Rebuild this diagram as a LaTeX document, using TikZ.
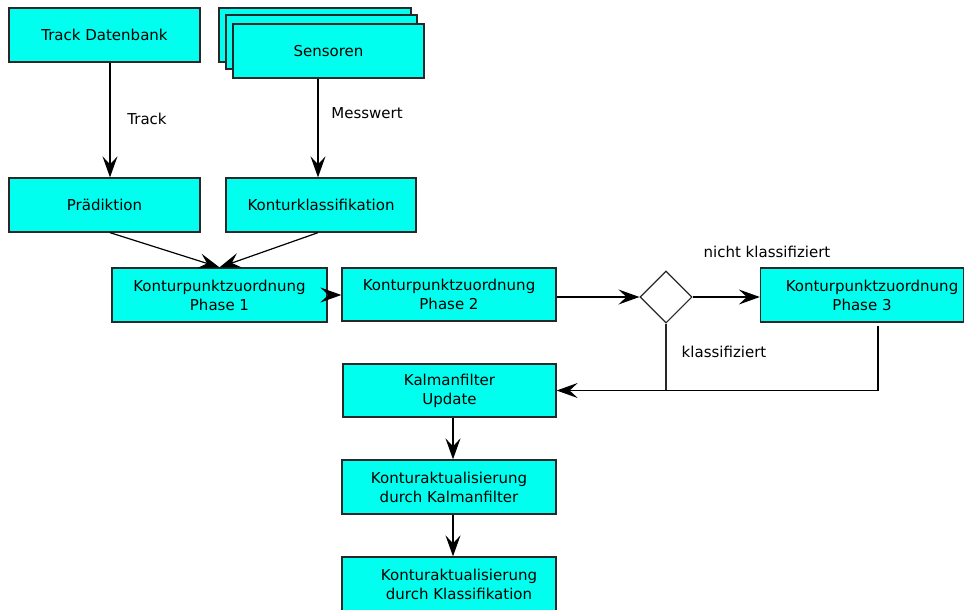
\documentclass[tikz,border=0pt]{standalone}
\usepackage{fontspec}
\setmainfont{DejaVu Sans}
\usetikzlibrary{arrows.meta,shapes.geometric}
\definecolor{boxcyan}{RGB}{0,255,238}
\definecolor{boxline}{RGB}{40,40,40}
\tikzset{
  box/.style={draw=boxline, fill=boxcyan, line width=1.3pt, rectangle, inner sep=0pt,
    align=center, font=\fontsize{15}{19}\selectfont},
  lbl/.style={font=\fontsize{15}{19}\selectfont, inner sep=0pt},
  conn/.style={draw=black, line width=1.2pt, -{Stealth[length=21pt,width=15pt,inset=8pt]}},
  plain/.style={draw=boxline, line width=1.2pt}
}
\begin{document}
\begin{tikzpicture}[x=1pt,y=-1pt]
\useasboundingbox (0,0) rectangle (964,610);
% nodes
\node[box, minimum width=191, minimum height=54] (td) at (104.5,35) {Track Datenbank};
\node[box, minimum width=192, minimum height=54] (sensb) at (315,35) {};
\node[box, minimum width=191, minimum height=54] (sensm) at (321.5,42) {};
\node[box, minimum width=191, minimum height=54] (sens) at (328.5,51) {Sensoren};
\node[box, minimum width=191, minimum height=54] (pred) at (104.5,205) {Prädiktion};
\node[box, minimum width=190, minimum height=54] (kk) at (321,205) {Konturklassifikation};
\node[box, minimum width=215, minimum height=54] (p1) at (219.5,295) {Konturpunktzuordnung\\Phase 1};
\node[box, minimum width=214, minimum height=53] (p2) at (449,294.5) {Konturpunktzuordnung\\Phase 2};
\node[draw=boxline, fill=white, line width=1.1pt, diamond, aspect=1, inner sep=0pt,
      minimum width=52, minimum height=52] (dia) at (666,297) {};
\node[box, minimum width=203, minimum height=54] (p3) at (862,295) {\hspace*{20pt}Konturpunktzuordnung\\Phase 3};
\node[box, minimum width=213, minimum height=53] (kal) at (449.5,390.5) {Kalmanfilter\\Update};
\node[box, minimum width=214, minimum height=54] (kak) at (449,487) {Konturaktualisierung\\durch Kalmanfilter};
\node[box, minimum width=214, minimum height=54] (kkl) at (449,584) {\hspace*{20pt}Konturaktualisierung\\\hspace*{20pt}durch Klassifikation};
% labels
\node[lbl] (ltrack) at (147,119) {Track};
\node[lbl] (lmess) at (367,113) {Messwert};
\node[lbl] (lnk) at (767,252) {nicht klassifiziert};
\node[lbl] (lk) at (724,352) {klassifiziert};
% connectors
\draw[conn] (td.south -| 110,0) -- (pred.north -| 110,0);
\draw[conn] (sens.south -| 318,0) -- (kk.north -| 318,0);
\draw[conn] ([xshift=5.5]pred.south) -- (p1.north);
\draw[conn] ([xshift=-3]kk.south) -- (p1.north);
\draw[conn] (p1.east) -- (p2.west |- p1.east);
\draw[conn] (p2.east |- dia.west) -- (dia.west);
\draw[conn] (dia.east) -- (p3.west |- dia.east);
\coordinate (j) at (dia.south |- kal.east);
\draw[plain] (dia.south) -- (j);
\draw[conn] ([xshift=16,yshift=-3]p3.south) |- (kal.east);
\draw[conn] (kal.south -| 453,0) -- (kak.north -| 453,0);
\draw[conn] (kak.south -| 453,0) -- (kkl.north -| 453,0);
\end{tikzpicture}
\end{document}
